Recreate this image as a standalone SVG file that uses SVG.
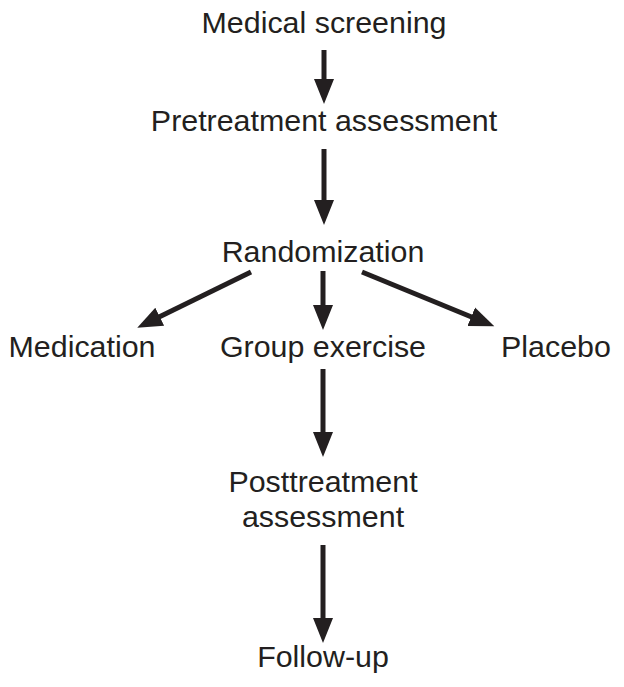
<svg xmlns="http://www.w3.org/2000/svg" width="624" height="687" viewBox="0 0 624 687">
<defs>
<marker id="ah" markerUnits="userSpaceOnUse" markerWidth="26" markerHeight="22" refX="3" refY="11" orient="auto" viewBox="0 0 26 22">
<path d="M0,1 L25,11 L0,21 z" fill="#231f20"/>
</marker>
<style>
text{font-family:"Liberation Sans",Arial,sans-serif;font-size:30.4px;fill:#231f20;text-anchor:middle}
.c{stroke:#231f20;stroke-width:5;fill:none;marker-end:url(#ah)}
</style>
</defs>
<rect width="624" height="687" fill="#fff"/>
<g id="screening"><text x="324" y="33">Medical screening</text></g>
<g id="pretreatment"><text x="324" y="131">Pretreatment assessment</text></g>
<g id="randomization"><text x="323" y="262">Randomization</text></g>
<g id="medication"><text x="82" y="357">Medication</text></g>
<g id="exercise"><text x="323" y="357">Group exercise</text></g>
<g id="placebo"><text x="556" y="357">Placebo</text></g>
<g id="posttreatment"><text x="323" y="492">Posttreatment</text><text x="323" y="527">assessment</text></g>
<g id="followup"><text x="323" y="667">Follow-up</text></g>
<g id="connectors">
<line class="c" x1="324" y1="50" x2="324" y2="82"/>
<line class="c" x1="324" y1="149" x2="324" y2="203"/>
<line class="c" x1="323" y1="271" x2="323" y2="308"/>
<line class="c" x1="251" y1="272" x2="157" y2="318"/>
<line class="c" x1="362" y1="272" x2="474" y2="318"/>
<line class="c" x1="323" y1="369" x2="323" y2="435"/>
<line class="c" x1="323" y1="545" x2="323" y2="621"/>
</g>
</svg>
